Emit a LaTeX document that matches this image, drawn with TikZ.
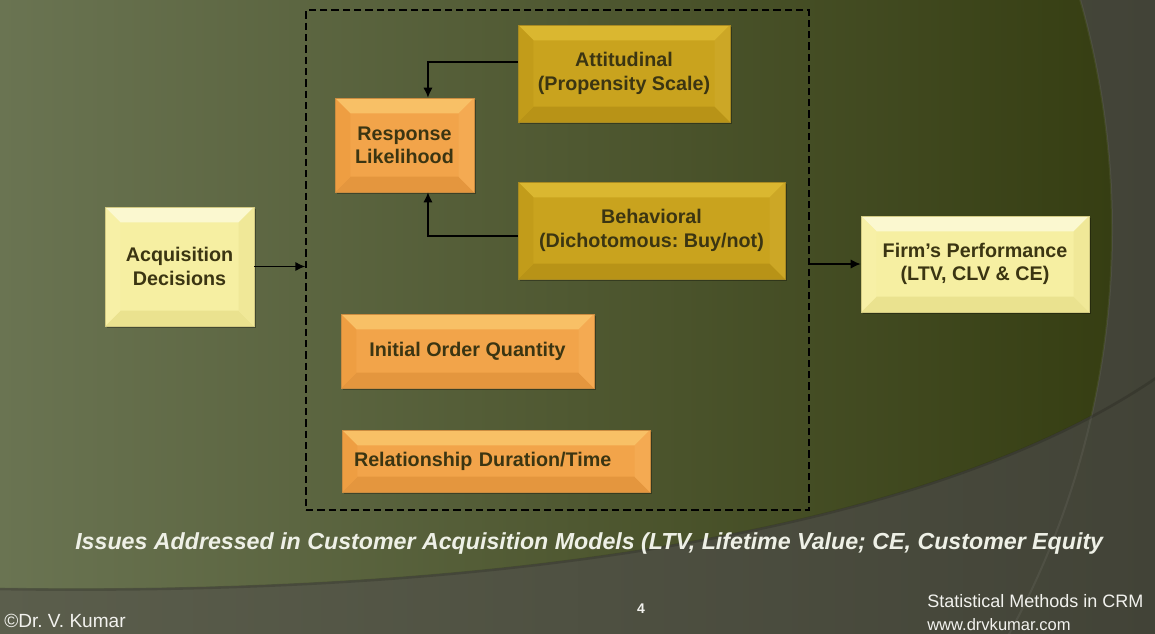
\documentclass[tikz,border=0pt]{standalone}
\usepackage{fontspec}
\setmainfont{Liberation Sans}
\frenchspacing
\usetikzlibrary{arrows.meta}
\definecolor{txt}{HTML}{3B3512}
\definecolor{graylt}{HTML}{5B5E4C}
\definecolor{graydk}{HTML}{424337}
\definecolor{olvA}{HTML}{6A7452}
\definecolor{olvB}{HTML}{4A5423}
\definecolor{olvC}{HTML}{343C10}
% yellow
\definecolor{yBase}{HTML}{F6EFA2}
\definecolor{yTop}{HTML}{FBF8D0}
\definecolor{yLeft}{HTML}{F7F0A6}
\definecolor{yRight}{HTML}{F0E898}
\definecolor{yBot}{HTML}{EAE28F}
\definecolor{yDraw}{HTML}{D2CA82}
% orange
\definecolor{oBase}{HTML}{F2A44A}
\definecolor{oTop}{HTML}{F8C066}
\definecolor{oLeft}{HTML}{EE9E42}
\definecolor{oRight}{HTML}{F4AA52}
\definecolor{oBot}{HTML}{E4963E}
\definecolor{oDraw}{HTML}{CB8C40}
% gold
\definecolor{gBase}{HTML}{C9A31E}
\definecolor{gTop}{HTML}{DAB730}
\definecolor{gLeft}{HTML}{C29C1A}
\definecolor{gRight}{HTML}{CCA726}
\definecolor{gBot}{HTML}{B89317}
\definecolor{gDraw}{HTML}{A88A22}
\definecolor{captxt}{HTML}{EEF0E6}
\definecolor{foot}{HTML}{F2F2EE}
\def\bvw{11.5pt}
\tikzset{
  bevel/.style n args={6}{fill=#1, draw=#6, line width=0.5pt,
    preaction={fill=black, fill opacity=0.3, draw=none, transform canvas={xshift=1.8pt, yshift=-1.8pt}},
    path picture={
      \fill[#2] (path picture bounding box.north west) -- (path picture bounding box.north east)
        -- ([xshift=-\bvw,yshift=-\bvw]path picture bounding box.north east)
        -- ([xshift=\bvw,yshift=-\bvw]path picture bounding box.north west) -- cycle;
      \fill[#5] (path picture bounding box.south west) -- (path picture bounding box.south east)
        -- ([xshift=-\bvw,yshift=\bvw]path picture bounding box.south east)
        -- ([xshift=\bvw,yshift=\bvw]path picture bounding box.south west) -- cycle;
      \fill[#3] (path picture bounding box.north west) -- ([xshift=\bvw,yshift=-\bvw]path picture bounding box.north west)
        -- ([xshift=\bvw,yshift=\bvw]path picture bounding box.south west) -- (path picture bounding box.south west) -- cycle;
      \fill[#4] (path picture bounding box.north east) -- ([xshift=-\bvw,yshift=-\bvw]path picture bounding box.north east)
        -- ([xshift=-\bvw,yshift=\bvw]path picture bounding box.south east) -- (path picture bounding box.south east) -- cycle;
    }},
  boxtext/.style={text=txt, font=\bfseries\fontsize{14.8}{17.5}\selectfont, align=center, inner sep=0pt},
  ybox/.style={bevel={yBase}{yTop}{yLeft}{yRight}{yBot}{yDraw}, boxtext},
  obox/.style={bevel={oBase}{oTop}{oLeft}{oRight}{oBot}{oDraw}, boxtext},
  gbox/.style={bevel={gBase}{gTop}{gLeft}{gRight}{gBot}{gDraw}, boxtext},
  conn/.style={draw=black, line width=1.1pt, -{Latex[length=7.5pt,width=7pt]}},
  frame/.style={draw=black, line width=1.1pt, dash pattern=on 5.5pt off 3pt, inner sep=0pt},
}
\begin{document}
\begin{tikzpicture}[x=0.75pt, y=-0.75pt]
\useasboundingbox (0,0) rectangle (1155,633);
% background
\begin{scope}
  \clip (0,0) rectangle (1155,633);
  \shade[left color=graylt, right color=graydk] (0,0) rectangle (1155,633);
  \begin{scope}
    \clip (269,230) circle[radius=843];
    \clip (-10,-10) -- (1165,-10) -- (1165,372) -- (1155,377) .. controls (950,518) and (550,596) .. (0,588) -- (-10,588) -- cycle;
    \shade[left color=olvA, middle color=olvB, right color=olvC] (0,0) rectangle (1155,633);
  \end{scope}
  \draw[white, opacity=0.06, line width=1.5pt] (269,230) circle[radius=843];
  \draw[black, opacity=0.15, line width=2pt] (0,589) .. controls (550,597) and (950,519) .. (1156,378);
\end{scope}

% dashed frame
\node[frame, minimum width=377.25pt, minimum height=375pt] (frame) at (557.5,260) {};

% boxes
\node[ybox, minimum width=111.75pt, minimum height=89.25pt] (acq) at (179.5,266.5) {Acquisition\\Decisions};
\node[obox, minimum width=104.25pt, minimum height=70.5pt] (resp) at (404.5,145) {Response\\Likelihood};
\node[gbox, minimum width=159pt, minimum height=72.75pt] (att) at (624,73.5) {Attitudinal\\(Propensity Scale)};
\node[gbox, minimum width=200.25pt, minimum height=72.75pt] (beh) at (651.5,230.5) {Behavioral\\(Dichotomous: Buy/not)};
\node[obox, minimum width=189.75pt, minimum height=55.5pt] (ioq) at (467.5,351) {Initial Order Quantity};
\node[obox, minimum width=231pt, minimum height=46.5pt, text width=213pt, inner xsep=9pt, align=left] (rel) at (496,461) {Relationship Duration/Time};
\node[ybox, minimum width=171pt, minimum height=72pt] (firm) at (975,264) {Firm’s Performance\\(LTV, CLV \& CE)};

% connectors
\draw[conn] (acq.east) -- (acq.east -| frame.west);
\draw[conn] (frame.east |- firm.west) -- (firm.west);
\draw[conn] ([yshift=8.6pt]att.west) -| ([xshift=17.6pt]resp.north);
\draw[conn] ([yshift=-4pt]beh.west) -| ([xshift=17.6pt]resp.south);

% texts
\node[anchor=base west, inner sep=0pt, text=captxt, font=\bfseries\itshape\fontsize{17.4}{20}\selectfont] (cap) at (75,549) {Issues Addressed in Customer Acquisition Models (LTV, Lifetime Value; CE, Customer Equity};
\node[anchor=base west, inner sep=0pt, text=foot, font=\fontsize{14.3}{16}\selectfont] (auth) at (4,627) {©Dr. V. Kumar};
\node[anchor=base west, inner sep=0pt, text=foot, font=\fontsize{13.5}{16}\selectfont] (smc) at (927,607) {Statistical Methods in CRM};
\node[anchor=base west, inner sep=0pt, text=foot, font=\fontsize{12.4}{15}\selectfont] (web) at (927,630) {www.drvkumar.com};
\node[anchor=base, inner sep=0pt, text=foot, font=\bfseries\fontsize{10.5}{13}\selectfont] (pg) at (641,613) {4};
\end{tikzpicture}
\end{document}
